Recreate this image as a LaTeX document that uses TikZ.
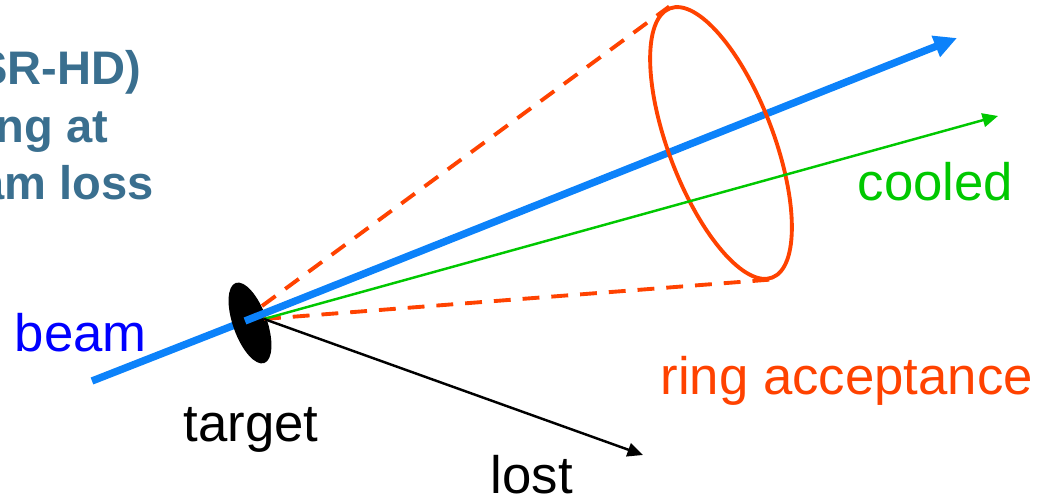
\documentclass[tikz,border=0pt]{standalone}
\usepackage{fontspec}
\setmainfont{Liberation Sans}
\usetikzlibrary{arrows.meta,shapes.geometric}
\definecolor{beamblue}{HTML}{0C82FA}
\definecolor{coolgreen}{HTML}{00C800}
\definecolor{accorange}{HTML}{FF4200}
\definecolor{titleblue}{HTML}{3A6F8F}

\tikzset{
  lbl/.style={inner sep=0pt, anchor=base west, font=\fontsize{15}{18}\selectfont},
  headline/.style={inner sep=0pt, anchor=base east, text=titleblue,
    font=\fontsize{13.4}{16}\selectfont\bfseries},
  ray/.style={line width=0.7pt, -{Triangle[length=4.4pt,width=3.9pt]}},
  acceptance/.style={accorange, line width=1.1pt, dash pattern=on 4.8pt off 3.4pt},
}

\begin{document}
\begin{tikzpicture}
  \useasboundingbox (0,0) rectangle (10.51,5);
  \clip (0,0) rectangle (10.51,5);
  % heading, cut off at the left edge
  \node[headline] (head1) at (1.42,4.15) {(TSR-HD)};
  \node[headline] (head2) at (1.09,3.57) {cooling at};
  \node[headline] (head3) at (1.545,3.00) {beam loss};
  % beam through the target
  \coordinate (beamin) at (0.92,1.19);
  \coordinate (beamout) at (2.45,1.79);
  \coordinate (beamtip) at (9.57,4.62);
  \coordinate (hit) at (2.64,1.81);
  \coordinate (hitup) at (2.62,1.94);
  \coordinate (coolend) at (9.98,3.84);
  \coordinate (lostend) at (6.43,0.45);
  \draw[beamblue, line width=2.1pt] (beamin) -- (beamout);
  \node[ellipse, fill=black, inner sep=0pt, minimum width=0.34cm,
    minimum height=0.85cm, rotate=19.6] (target) at (2.50,1.77) {};
  \draw[beamblue, line width=2.1pt, -{Triangle[length=6.5pt,width=6.1pt]}] (beamout) -- (beamtip);
  % ring acceptance
  \node[ellipse, draw=accorange, line width=1.1pt, inner sep=0pt, minimum width=1.05cm,
    minimum height=2.88cm, rotate=20.8] (ring) at (7.21,3.57) {};
  \draw[acceptance] (hitup) -- (ring.north);
  \draw[acceptance] (hit) -- (ring.south);
  \draw[ray, coolgreen] (hit) -- (coolend);
  \draw[ray, black] (hit) -- (lostend);
  % labels
  \node[lbl, text=blue] (beamlbl) at (0.14,1.48) {beam};
  \node[lbl] (targetlbl) at (1.83,0.58) {target};
  \node[lbl] (lostlbl) at (4.90,0.06) {lost};
  \node[lbl, text=coolgreen] (coollbl) at (8.57,2.99) {cooled};
  \node[lbl, text=accorange] (acclbl) at (6.60,1.05) {ring acceptance};
\end{tikzpicture}
\end{document}
